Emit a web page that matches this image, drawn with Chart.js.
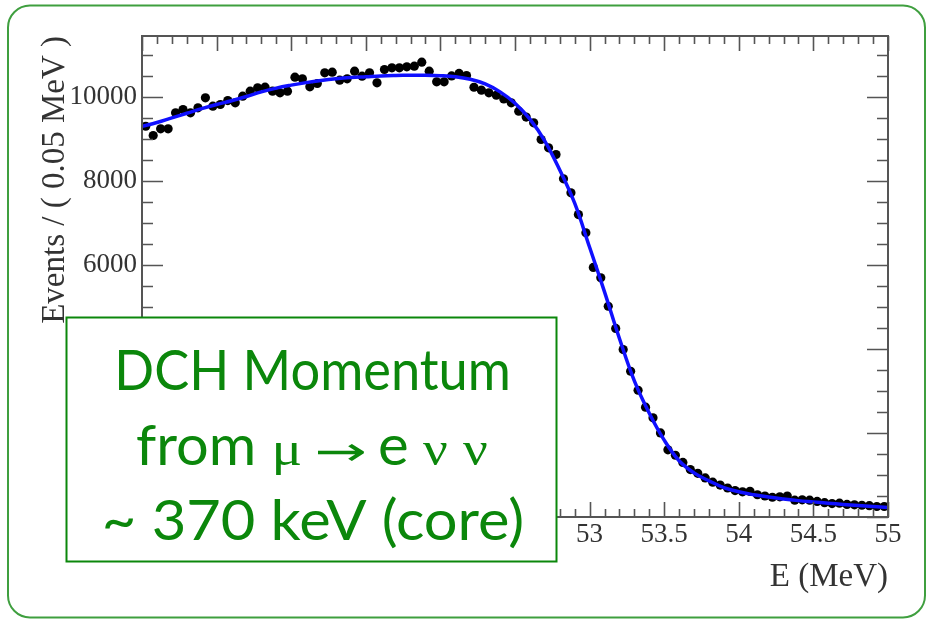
<!DOCTYPE html>
<html>
<head>
<meta charset="utf-8">
<script src="https://cdn.jsdelivr.net/npm/chart.js@4/dist/chart.umd.min.js"></script>
<style>
html,body{margin:0;padding:0;background:#fff;}
#wrap{position:relative;width:930px;height:621px;overflow:hidden;}
canvas{position:absolute;left:0;top:0;}
</style>
</head>
<body>
<div id="wrap"><canvas id="c" width="930" height="621"></canvas></div>
<script>
// ---- data ----
const binEnergy = [
  50.025,50.075,50.125,50.175,50.225,50.275,50.325,50.375,50.425,50.475,
  50.525,50.575,50.625,50.675,50.725,50.775,50.825,50.875,50.925,50.975,
  51.025,51.075,51.125,51.175,51.225,51.275,51.325,51.375,51.425,51.475,
  51.525,51.575,51.625,51.675,51.725,51.775,51.825,51.875,51.925,51.975,
  52.025,52.075,52.125,52.175,52.225,52.275,52.325,52.375,52.425,52.475,
  52.525,52.575,52.625,52.675,52.725,52.775,52.825,52.875,52.925,52.975,
  53.025,53.075,53.125,53.175,53.225,53.275,53.325,53.375,53.425,53.475,
  53.525,53.575,53.625,53.675,53.725,53.775,53.825,53.875,53.925,53.975,
  54.025,54.075,54.125,54.175,54.225,54.275,54.325,54.375,54.425,54.475,
  54.525,54.575,54.625,54.675,54.725,54.775,54.825,54.875,54.925,54.975
];
const eventCounts = [
  9302,9081,9240,9240,9621,9700,9621,9740,9979,9779,
  9819,9914,9860,10017,10136,10217,10231,10136,10098,10136,
  10469,10431,10240,10319,10574,10588,10398,10431,10612,10493,
  10574,10336,10652,10693,10693,10717,10731,10826,10612,10360,
  10360,10500,10560,10510,10230,10160,10098,10040,9950,9860,
  9660,9520,9383,8986,8788,8629,8050,7717,7200,6764,
  5940,5693,5017,4490,3986,3469,3017,2615,2360,2002,
  1600,1470,1300,1130,1040,930,830,760,690,630,
  600,610,530,500,470,480,500,400,410,400,
  370,340,320,330,300,290,280,270,250,250
];
const fitEnergy = [
  50.0,50.1,50.2,50.3,50.4,50.5,50.6,50.7,50.8,50.9,
  51.0,51.1,51.2,51.3,51.4,51.5,51.6,51.7,51.8,51.9,
  52.0,52.1,52.2,52.3,52.4,52.5,52.6,52.7,52.8,52.9,
  53.0,53.1,53.2,53.3,53.4,53.5,53.6,53.7,53.8,53.9,
  54.0,54.1,54.2,54.3,54.4,54.5,54.6,54.7,54.8,54.9,55.0
];
const fitValues = [
  9300,9390,9500,9610,9720,9820,9910,10010,10120,10210,
  10280,10340,10390,10430,10460,10480,10500,10510,10515,10515,
  10505,10480,10420,10310,10120,9850,9470,8950,8260,7470,
  6420,5360,4250,3240,2470,1830,1340,1050,860,700,
  600,530,475,430,390,360,330,300,275,250,225
];
const xTickValues = [50,50.5,51,51.5,52,52.5,53,53.5,54,54.5,55];
const yTickValues = [0,2000,4000,6000,8000,10000];
const xRange = [50,55];
const yRange = [0,11450];
const xTitle = 'E (MeV)';
const yTitle = 'Events / ( 0.05 MeV )';
const noteLines = [
  ['DCH Momentum'],
  ['from', '\u03BC', '\u2192', 'e', '\u03BD', '\u03BD'],
  ['~ 370 keV (core)']
];

// ---- styling / drawing ----
const AXIS_COL = '#555555';
const TXT_COL = '#333333';
const GREEN = '#0b870b';

// ink extents (left, right) and baseline of every piece of the note text
const noteLayout = [
  [{x0: 119, x1: 508, base: 390, f: 'sans'}],
  [{x0: 137, x1: 253, base: 465, f: 'sans'}, {x0: 275, x1: 300, base: 465, f: 'serif'},
   {x0: 318, x1: 365, base: 465, f: 'arrow'}, {x0: 380, x1: 407, base: 465, f: 'sans'},
   {x0: 423, x1: 447, base: 465, f: 'serif'}, {x0: 463, x1: 487, base: 465, f: 'serif'}],
  [{x0: 105, x1: 522, base: 540, f: 'sans'}]
];
const noteFonts = {
  sans: {font: '400 56px Lato', stroke: 0},
  serif: {font: '48px "Liberation Serif"', stroke: 0},
  arrow: {font: '40px "DejaVu Sans"', stroke: 0}
};

const frameTicks = {
  id: 'frameTicks',
  afterDatasetsDraw(chart) {
    const {ctx, chartArea: a, scales: {x, y}} = chart;
    ctx.save();
    ctx.strokeStyle = AXIS_COL;
    ctx.lineWidth = 1.6;
    ctx.beginPath();
    for (let i = 0; i <= 50; i++) {
      const v = xRange[0] + i * 0.1;
      const px = Math.round(x.getPixelForValue(v)) + 0.5;
      const len = (i % 5 === 0) ? 15 : 8;
      ctx.moveTo(px, a.bottom); ctx.lineTo(px, a.bottom - len);
      ctx.moveTo(px, a.top); ctx.lineTo(px, a.top + len);
    }
    for (let i = 0; i * 500 <= yRange[1]; i++) {
      const v = i * 500;
      const py = Math.round(y.getPixelForValue(v)) + 0.5;
      const len = (v % 2000 === 0) ? 21 : 11;
      ctx.moveTo(a.left, py); ctx.lineTo(a.left + len, py);
      ctx.moveTo(a.right, py); ctx.lineTo(a.right - len, py);
    }
    ctx.stroke();
    ctx.lineWidth = 2;
    ctx.strokeRect(a.left, a.top, a.right - a.left, a.bottom - a.top);
    ctx.restore();
  }
};

const noteBox = {
  id: 'noteBox',
  afterDraw(chart) {
    const ctx = chart.ctx;
    ctx.save();
    ctx.strokeStyle = '#3f9f3f';
    ctx.lineWidth = 2;
    ctx.beginPath();
    ctx.roundRect(8, 5.5, 917, 612, 22);
    ctx.stroke();
    ctx.fillStyle = '#ffffff';
    ctx.fillRect(66.5, 317.5, 490, 244);
    ctx.strokeStyle = GREEN;
    ctx.lineWidth = 2;
    ctx.strokeRect(66.5, 317.5, 490, 244);
    ctx.fillStyle = GREEN;
    ctx.lineJoin = 'round';
    ctx.textBaseline = 'alphabetic';
    ctx.textAlign = 'left';
    noteLines.forEach((pieces, li) => {
      pieces.forEach((txt, k) => {
        const L = noteLayout[li][k];
        const st = noteFonts[L.f];
        ctx.font = st.font;
        const m = ctx.measureText(txt);
        const inkL = m.actualBoundingBoxLeft, inkW = m.actualBoundingBoxLeft + m.actualBoundingBoxRight;
        const sx = (L.x1 - L.x0) / inkW;
        ctx.save();
        ctx.translate(L.x0, L.base);
        ctx.scale(sx, 1);
        ctx.fillText(txt, inkL, 0);
        if (st.stroke) { ctx.lineWidth = st.stroke; ctx.strokeText(txt, inkL, 0); }
        ctx.restore();
      });
    });
    ctx.restore();
  }
};

const tickFont = {family: '"Liberation Serif", "Times New Roman", serif', size: 27};
const titleFont = {family: '"Liberation Serif", "Times New Roman", serif', size: 33, lineHeight: 1};

new Chart(document.getElementById('c'), {
  type: 'scatter',
  data: {
    datasets: [
      {
        label: 'Fit',
        data: fitEnergy.map((e, i) => ({x: e, y: fitValues[i]})),
        showLine: true,
        borderColor: '#1010ff',
        borderWidth: 3.5,
        pointRadius: 0,
        fill: false,
        tension: 0.4,
        order: 0
      },
      {
        label: 'Data',
        data: binEnergy.map((e, i) => ({x: e, y: eventCounts[i]})),
        showLine: false,
        pointRadius: 4.6,
        pointBackgroundColor: '#000',
        pointBorderColor: '#000',
        pointBorderWidth: 0,
        order: 1
      }
    ]
  },
  options: {
    responsive: false,
    animation: false,
    devicePixelRatio: 1,
    layout: {padding: {left: 0, top: 36, right: 42, bottom: 0}},
    plugins: {legend: {display: false}, tooltip: {enabled: false}},
    scales: {
      x: {
        type: 'linear',
        min: xRange[0], max: xRange[1],
        afterBuildTicks: ax => { ax.ticks = xTickValues.map(v => ({value: v})); },
        afterFit: s => { s.height = 104; },
        grid: {display: false, drawTicks: false},
        border: {display: false},
        ticks: {color: TXT_COL, font: tickFont, padding: 2, maxRotation: 0, autoSkip: false, callback: v => String(v)},
        title: {display: true, text: xTitle, align: 'end', color: TXT_COL, font: titleFont, padding: {top: 0, bottom: 27}}
      },
      y: {
        type: 'linear',
        min: yRange[0], max: yRange[1],
        afterBuildTicks: ax => { ax.ticks = yTickValues.map(v => ({value: v})); },
        afterFit: s => { s.width = 142; },
        grid: {display: false, drawTicks: false},
        border: {display: false},
        ticks: {color: TXT_COL, font: tickFont, padding: 5, autoSkip: false, callback: v => String(v)},
        title: {display: true, text: yTitle, align: 'end', color: TXT_COL, font: titleFont, padding: {top: 39, bottom: 0}}
      }
    }
  },
  plugins: [frameTicks, noteBox]
});
</script>
</body>
</html>
